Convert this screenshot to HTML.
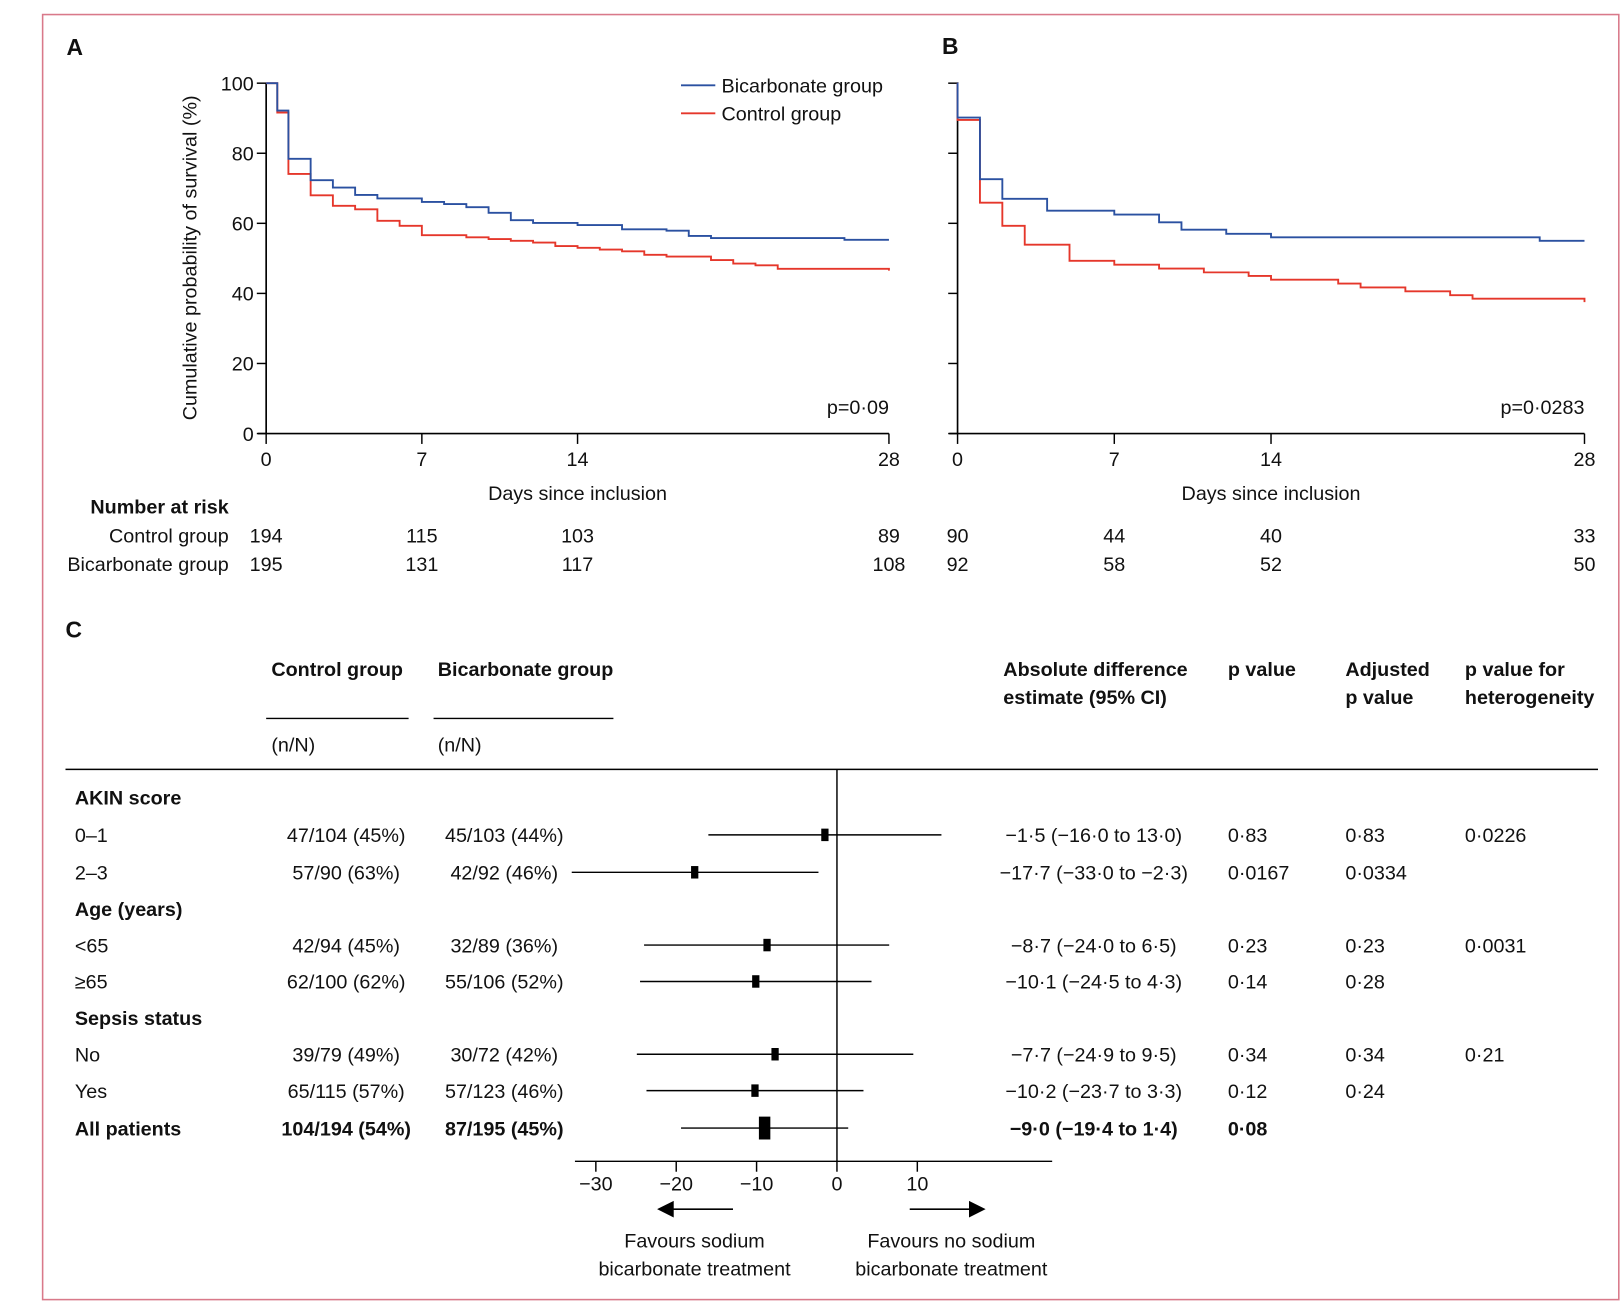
<!DOCTYPE html>
<html><head><meta charset="utf-8">
<style>
html,body{margin:0;padding:0;background:#fff;}
svg{display:block;}
text{font-family:"Liberation Sans",sans-serif;fill:#111;}
.b{font-weight:bold;}
</style></head>
<body>
<svg id="fig" width="1624" height="1310" viewBox="0 0 1562 1260" preserveAspectRatio="none" xmlns="http://www.w3.org/2000/svg">
<rect x="41" y="14" width="1516" height="1236" fill="none" stroke="#d9798a" stroke-width="1.5"/>
<g id="pa"></g>
<g id="pb"></g>
<g id="pc"></g>
</svg>
<script>
// Panel A survival data (days, %)
const aBlueDays=[0,0.5,1,2,3,4,5,7,8,9,10,11,12,14,16,18,19,20,26];
const aBlueVals=[100,92.2,78.4,72.3,70.2,68.1,67.1,66.1,65.5,64.6,63,60.9,60.1,59.5,58.3,57.9,56.4,55.8,55.3];
const aRedDays=[0,0.5,1,2,3,4,5,6,7,9,10,11,12,13,14,15,16,17,18,20,21,22,23,28];
const aRedVals=[100,91.6,74.1,68,65,64,60.7,59.3,56.6,56,55.5,55,54.5,53.5,53,52.5,52,51,50.5,49.5,48.5,48,47,46.5];
// Panel B survival data
const bBlueDays=[0,0.001,1,2,4,7,9,10,12,14,26];
const bBlueVals=[100,90.2,72.6,67,63.6,62.5,60.3,58.2,57,56,55];
const bRedDays=[0,0.001,1,2,3,5,7,9,11,13,14,17,18,20,22,23,28];
const bRedVals=[100,89.5,65.9,59.3,53.9,49.3,48.2,47.1,46,45,43.9,42.8,41.7,40.6,39.5,38.5,37.5];
const yTicks=[0,20,40,60,80,100];
const xTicks=[0,7,14,28];
const riskA={control:[194,115,103,89],bicarb:[195,131,117,108]};
const riskB={control:[90,44,40,33],bicarb:[92,58,52,50]};
// Forest plot data
const fEst=[-1.5,-17.7,-8.7,-10.1,-7.7,-10.2,-9.0];
const fLo=[-16.0,-33.0,-24.0,-24.5,-24.9,-23.7,-19.4];
const fHi=[13.0,-2.3,6.5,4.3,9.5,3.3,1.4];
const fTicks=[-30,-20,-10,0,10];

const NS="http://www.w3.org/2000/svg";
function mk(parent,tag,attrs,txt){const e=document.createElementNS(NS,tag);for(const k in attrs)e.setAttribute(k,attrs[k]);if(txt!==undefined)e.textContent=txt;parent.appendChild(e);return e;}

const BLUE="#2b51a1",RED="#e5372b";
function panel(g,x0,x1,labels,bd,bv,rd,rv,pText,risk,yLabels){
  const y0=417,y100=80;
  const X=d=>x0+(x1-x0)*d/28, Y=v=>y0+(y100-y0)*v/100;
  // axes
  let e=mk(g,'line',{x1:x0,y1:y100,x2:x0,y2:y0,stroke:'#000','stroke-width':1.6});
  
  
  e=mk(g,'line',{x1:x0-8,y1:y0,x2:x1,y2:y0,stroke:'#000','stroke-width':1.6});
  
  
  yTicks.forEach(t=>{
    const tk=mk(g,'line',{x1:x0-9,y1:Y(t),x2:x0,y2:Y(t),stroke:'#000','stroke-width':1.4});
    
    
    if(yLabels){const tl=mk(g,'text',{x:x0-12,y:Y(t)+7,'font-size':19,'text-anchor':'end'},t);
      
      }
  });
  xTicks.forEach((t,i)=>{
    const tk=mk(g,'line',{x1:X(t),y1:y0,x2:X(t),y2:y0+10,stroke:'#000','stroke-width':1.4});
    
    
    const tl=mk(g,'text',{x:X(t),y:448,'font-size':19,'text-anchor':'middle'},t);
    
    
    const r1=mk(g,'text',{x:X(t),y:522,'font-size':19,'text-anchor':'middle'},risk.control[i]);
    
    
    const r2=mk(g,'text',{x:X(t),y:549,'font-size':19,'text-anchor':'middle'},risk.bicarb[i]);
    
    
  });
  function step(days,vals,color,name){
    let d='M'+X(days[0])+','+Y(vals[0]);
    for(let i=1;i<days.length;i++){d+=' H'+X(days[i])+' V'+Y(vals[i]);}
    if(days[days.length-1]<28)d+=' H'+X(28);
    const p=mk(g,'path',{d:d,fill:'none',stroke:color,'stroke-width':1.8});
    
    
  }
  step(rd,rv,RED,'control-curve');
  step(bd,bv,BLUE,'bicarbonate-curve');
  const pt=mk(g,'text',{x:x1,y:398,'font-size':19,'text-anchor':'end'},pText);
  
  
  const xt=mk(g,'text',{x:(x0+x1)/2,y:481,'font-size':19,'text-anchor':'middle'},'Days since inclusion');
  
  
}
const pa=document.getElementById('pa'),pb=document.getElementById('pb'),pc=document.getElementById('pc');
let t=mk(pa,'text',{x:64,y:53,'font-size':22,'class':'b'},'A');


t=mk(pb,'text',{x:906,y:52,'font-size':22,'class':'b'},'B');


panel(pa,256,855,true,aBlueDays,aBlueVals,aRedDays,aRedVals,'p=0·09',riskA,true);
panel(pb,921,1524,true,bBlueDays,bBlueVals,bRedDays,bRedVals,'p=0·0283',riskB,false);
t=mk(pa,'text',{x:0,y:0,'font-size':19,'text-anchor':'middle',transform:'translate(189,248) rotate(-90)'},'Cumulative probability of survival (%)');


// legend
let l=mk(pa,'line',{x1:655,y1:82,x2:688,y2:82,stroke:BLUE,'stroke-width':1.8});


t=mk(pa,'text',{x:694,y:89,'font-size':19},'Bicarbonate group');


l=mk(pa,'line',{x1:655,y1:109,x2:688,y2:109,stroke:RED,'stroke-width':1.8});


t=mk(pa,'text',{x:694,y:116,'font-size':19},'Control group');


t=mk(pa,'text',{x:220,y:494,'font-size':19,'class':'b','text-anchor':'end'},'Number at risk');


t=mk(pa,'text',{x:220,y:522,'font-size':19,'text-anchor':'end'},'Control group');


t=mk(pa,'text',{x:220,y:549,'font-size':19,'text-anchor':'end'},'Bicarbonate group');



// Panel C
t=mk(pc,'text',{x:63,y:613,'font-size':22,'class':'b'},'C');


const heads=[[261,650,'Control group'],[421,650,'Bicarbonate group'],[965,650,'Absolute difference'],[965,677,'estimate (95% CI)'],[1181,650,'p value'],[1294,650,'Adjusted'],[1294,677,'p value'],[1409,650,'p value for'],[1409,677,'heterogeneity']];
heads.forEach(h=>{const e=mk(pc,'text',{x:h[0],y:h[1],'font-size':19,'class':'b'},h[2]);
  
  });
l=mk(pc,'line',{x1:256,y1:691,x2:393,y2:691,stroke:'#000','stroke-width':1.4});


l=mk(pc,'line',{x1:417,y1:691,x2:590,y2:691,stroke:'#000','stroke-width':1.4});


t=mk(pc,'text',{x:261,y:723,'font-size':19},'(n/N)');


t=mk(pc,'text',{x:421,y:723,'font-size':19},'(n/N)');


l=mk(pc,'line',{x1:63,y1:740,x2:1537,y2:740,stroke:'#000','stroke-width':1.4});


const groupRows=[[767,'AKIN score'],[874,'Age (years)'],[979,'Sepsis status']];
groupRows.forEach(r=>{const e=mk(pc,'text',{x:72,y:r[0]+7,'font-size':19,'class':'b'},r[1]);
  
  });
const rowY=[803,839,909,944,1014,1049,1085];
const rowLab=['0–1','2–3','<65','≥65','No','Yes','All patients'];
const ctl=['47/104 (45%)','57/90 (63%)','42/94 (45%)','62/100 (62%)','39/79 (49%)','65/115 (57%)','104/194 (54%)'];
const bic=['45/103 (44%)','42/92 (46%)','32/89 (36%)','55/106 (52%)','30/72 (42%)','57/123 (46%)','87/195 (45%)'];
const estT=['−1·5 (−16·0 to 13·0)','−17·7 (−33·0 to −2·3)','−8·7 (−24·0 to 6·5)','−10·1 (−24·5 to 4·3)','−7·7 (−24·9 to 9·5)','−10·2 (−23·7 to 3·3)','−9·0 (−19·4 to 1·4)'];
const pv=['0·83','0·0167','0·23','0·14','0·34','0·12','0·08'];
const adj=['0·83','0·0334','0·23','0·28','0·34','0·24',''];
const het=['0·0226','','0·0031','','0·21','',''];
const FX=v=>805+7.73*v;
rowY.forEach((y,i)=>{
  const bold=i===6?{'class':'b'}:{};
  const cols=[[72,'start',rowLab[i],'row-label'],[333,'middle',ctl[i],'control-count'],[485,'middle',bic[i],'bicarbonate-count'],[1052,'middle',estT[i],'estimate-text'],[1181,'start',pv[i],'p-value'],[1294,'start',adj[i],'adjusted-p-value'],[1409,'start',het[i],'heterogeneity-p-value']];
  cols.forEach(c=>{if(!c[2])return;
    const e=mk(pc,'text',Object.assign({x:c[0],y:y+7,'font-size':19,'text-anchor':c[1]},bold),c[2]);
    
    });
  const ci=mk(pc,'line',{x1:FX(fLo[i]),y1:y,x2:FX(fHi[i]),y2:y,stroke:'#000','stroke-width':1.4});
  
  
  const w=i===6?11:7,h=i===6?22:12;
  const pt=mk(pc,'rect',{x:FX(fEst[i])-w/2,y:y-h/2,width:w,height:h,fill:'#000'});
  
  
});
l=mk(pc,'line',{x1:805,y1:740,x2:805,y2:1117,stroke:'#000','stroke-width':1.4});


l=mk(pc,'line',{x1:553,y1:1117,x2:1012,y2:1117,stroke:'#000','stroke-width':1.4});


fTicks.forEach(v=>{
  const tk=mk(pc,'line',{x1:FX(v),y1:1117,x2:FX(v),y2:1127,stroke:'#000','stroke-width':1.4});
  
  
  const tl=mk(pc,'text',{x:FX(v),y:1145,'font-size':19,'text-anchor':'middle'},v<0?'−'+Math.abs(v):v);
  
  
});
l=mk(pc,'line',{x1:645,y1:1163,x2:705,y2:1163,stroke:'#000','stroke-width':1.6});


let a=mk(pc,'polygon',{points:'632,1163 648,1155 648,1171',fill:'#000'});


l=mk(pc,'line',{x1:875,y1:1163,x2:935,y2:1163,stroke:'#000','stroke-width':1.6});


a=mk(pc,'polygon',{points:'948,1163 932,1155 932,1171',fill:'#000'});


[[668,1200,'Favours sodium'],[668,1227,'bicarbonate treatment'],[915,1200,'Favours no sodium'],[915,1227,'bicarbonate treatment']].forEach(f=>{
  const e=mk(pc,'text',{x:f[0],y:f[1],'font-size':19,'text-anchor':'middle'},f[2]);
  
  
});
</script>
</body></html>
